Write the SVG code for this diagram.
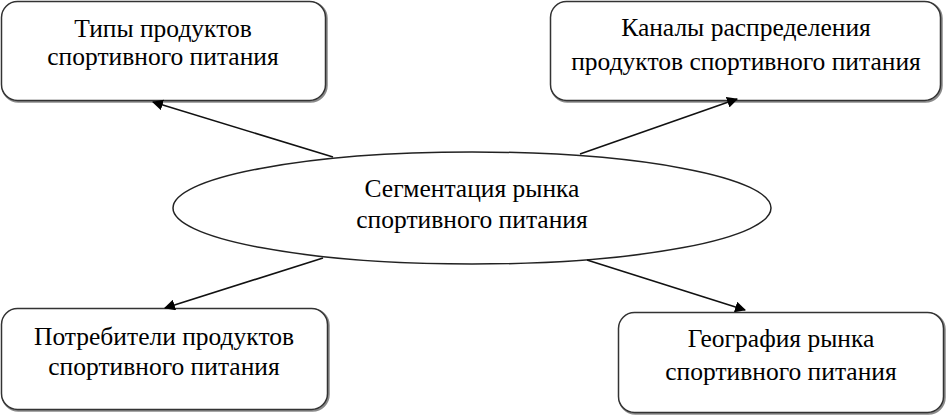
<svg xmlns="http://www.w3.org/2000/svg" width="946" height="416" viewBox="0 0 946 416">
<style>
.box{fill:#fff;stroke:#333;stroke-width:1.5}
.sh{fill:none;stroke:#8a8a8a;stroke-width:2.5}
.t{font-family:'Liberation Serif','Times New Roman','DejaVu Serif',serif;font-size:25.5px;fill:#000;text-anchor:middle}
.c{stroke:#111;stroke-width:1.6;fill:none;marker-end:url(#ah)}
</style>
<defs>
<marker id="ah" viewBox="0 0 10 10" refX="9" refY="5" markerWidth="11" markerHeight="11" markerUnits="userSpaceOnUse" orient="auto">
<path d="M0,0 L10,5 L0,10 z" fill="#000"/>
</marker>
</defs>
<rect width="946" height="416" fill="#fff"/>
<g id="n1">
<rect class="sh" x="2.5" y="2.5" width="324" height="99" rx="16"/>
<rect class="box" x="1.5" y="1.5" width="324" height="99" rx="16"/>
<text class="t" x="163" y="37">Типы продуктов</text>
<text class="t" x="163" y="65">спортивного питания</text>
</g>
<g id="n2">
<rect class="sh" x="551.5" y="2.5" width="390" height="99" rx="16"/>
<rect class="box" x="550.5" y="1.5" width="390" height="99" rx="16"/>
<text class="t" x="746" y="36">Каналы распределения</text>
<text class="t" x="746" y="70">продуктов спортивного питания</text>
</g>
<g id="n3">
<rect class="sh" x="2.5" y="309.5" width="326" height="101" rx="16"/>
<rect class="box" x="1.5" y="308.5" width="326" height="101" rx="16"/>
<text class="t" x="164" y="345">Потребители продуктов</text>
<text class="t" x="164" y="375">спортивного питания</text>
</g>
<g id="n4">
<rect class="sh" x="619.5" y="313.5" width="325" height="100" rx="16"/>
<rect class="box" x="618.5" y="312.5" width="325" height="100" rx="16"/>
<text class="t" x="781" y="347">География рынка</text>
<text class="t" x="781" y="380">спортивного питания</text>
</g>
<g id="center">
<ellipse cx="472" cy="208" rx="299" ry="56" fill="#fff" stroke="#222" stroke-width="1.5"/>
<text class="t" x="472" y="197">Сегментация рынка</text>
<text class="t" x="472" y="228">спортивного питания</text>
</g>
<g id="connectors">
<line class="c" x1="333" y1="157" x2="153" y2="102"/>
<line class="c" x1="580" y1="154" x2="737" y2="99"/>
<line class="c" x1="323" y1="258" x2="165" y2="308"/>
<line class="c" x1="587" y1="260" x2="745" y2="310"/>
</g>
</svg>
